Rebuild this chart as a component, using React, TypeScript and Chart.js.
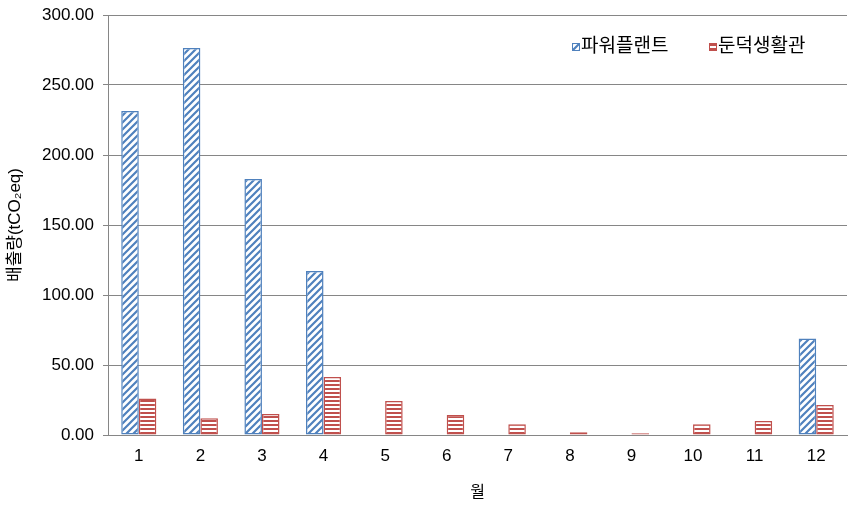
import { useEffect, useRef } from 'react';
import { Chart, registerables } from 'chart.js';

Chart.register(...registerables);

const MONTHS = ['1', '2', '3', '4', '5', '6', '7', '8', '9', '10', '11', '12'];
const POWER_PLANT = [231.4, 276.4, 182.9, 117.1, 0, 0, 0, 0, 0, 0, 0, 69.0];
const DUNDUK = [26.0, 11.9, 15.0, 41.4, 24.3, 14.3, 7.6, 1.9, 1.2, 7.6, 10.0, 21.4];
const SERIES_NAMES = ['파워플랜트', '둔덕생활관'];
const Y_TITLE = '배출량(tCO₂eq)';
const X_TITLE = '월';

const BLUE = '#4F81BD';
const RED = '#C0504D';
const FONT = '"Liberation Sans", "Noto Sans CJK KR", sans-serif';

function diagonalPattern(ctx: CanvasRenderingContext2D) {
  const c = document.createElement('canvas');
  c.width = 7;
  c.height = 7;
  const g = c.getContext('2d')!;
  g.fillStyle = '#fff';
  g.fillRect(0, 0, 7, 7);
  g.strokeStyle = BLUE;
  g.lineWidth = 2.2;
  g.beginPath();
  g.moveTo(-1, 8);
  g.lineTo(8, -1);
  g.moveTo(-4, 4);
  g.lineTo(4, -4);
  g.moveTo(3, 11);
  g.lineTo(11, 3);
  g.stroke();
  return ctx.createPattern(c, 'repeat')!;
}

function horizontalPattern(ctx: CanvasRenderingContext2D) {
  const c = document.createElement('canvas');
  c.width = 4;
  c.height = 4;
  const g = c.getContext('2d')!;
  g.fillStyle = '#fff';
  g.fillRect(0, 0, 4, 4);
  g.fillStyle = RED;
  g.fillRect(0, 0, 4, 2);
  return ctx.createPattern(c, 'repeat')!;
}

export default function App() {
  const canvasRef = useRef<HTMLCanvasElement>(null);
  const chartRef = useRef<Chart | null>(null);

  useEffect(() => {
    const canvas = canvasRef.current;
    if (!canvas) return;
    const ctx = canvas.getContext('2d')!;
    const bluePat = diagonalPattern(ctx);
    const redPat = horizontalPattern(ctx);

    // legend sits inside the plot, top right
    const legendPlugin = {
      id: 'innerLegend',
      afterDraw(chart: Chart) {
        const c = chart.ctx;
        const items = [
          { x: 572, fill: bluePat, color: BLUE, text: SERIES_NAMES[0] },
          { x: 709, fill: redPat, color: RED, text: SERIES_NAMES[1] },
        ];
        c.save();
        c.font = `19px ${FONT}`;
        c.textBaseline = 'middle';
        for (const it of items) {
          c.fillStyle = it.fill;
          c.fillRect(it.x, 43, 8, 8);
          c.strokeStyle = it.color;
          c.lineWidth = 1;
          c.strokeRect(it.x + 0.5, 43.5, 7, 7);
          c.fillStyle = '#000';
          c.fillText(it.text, it.x + 9, 47);
        }
        c.restore();
      },
    };

    chartRef.current?.destroy();
    chartRef.current = new Chart(canvas, {
      type: 'bar',
      data: {
        labels: MONTHS,
        datasets: [
          {
            label: SERIES_NAMES[0],
            data: POWER_PLANT,
            backgroundColor: bluePat,
            borderColor: BLUE,
            borderWidth: 1.5,
            borderSkipped: false,
          },
          {
            label: SERIES_NAMES[1],
            data: DUNDUK,
            backgroundColor: redPat,
            borderColor: RED,
            borderWidth: 1.5,
            borderSkipped: false,
          },
        ],
      },
      options: {
        animation: false,
        responsive: true,
        maintainAspectRatio: false,
        layout: { padding: { top: 15, right: 20, left: 0, bottom: 0 } },
        datasets: { bar: { categoryPercentage: 0.57, barPercentage: 1 } },
        plugins: { legend: { display: false }, tooltip: { enabled: false } },
        scales: {
          x: {
            grid: { display: false, drawTicks: false },
            border: { display: true, color: '#868686', width: 1 },
            ticks: { color: '#000', font: { family: FONT, size: 17 }, padding: 11 },
            title: {
              display: true,
              text: X_TITLE,
              color: '#000',
              font: { family: FONT, size: 16 },
              padding: { top: 0, bottom: 6 },
            },
            afterFit: (s: any) => {
              s.height = 73;
              s.paddingLeft = 0;
              s.paddingRight = 0;
            },
          },
          y: {
            min: 0,
            max: 300,
            grid: { color: '#868686', tickLength: 5, drawTicks: true },
            border: { display: true, color: '#868686' },
            ticks: {
              stepSize: 50,
              color: '#000',
              font: { family: FONT, size: 17 },
              padding: 9,
              callback: (v: any) => Number(v).toFixed(2),
            },
            title: {
              display: true,
              text: Y_TITLE,
              color: '#000',
              font: { family: FONT, size: 17 },
              padding: { top: 5, bottom: 0 },
            },
            afterFit: (s: any) => {
              s.width = 108;
              s.paddingTop = 0;
              s.paddingBottom = 0;
            },
          },
        },
      },
      plugins: [legendPlugin],
    });

    return () => {
      chartRef.current?.destroy();
      chartRef.current = null;
    };
  }, []);

  return (
    <div style={{ position: 'absolute', left: 0, top: 0, width: 867, height: 508, background: '#fff' }}>
      <canvas ref={canvasRef} />
    </div>
  );
}
